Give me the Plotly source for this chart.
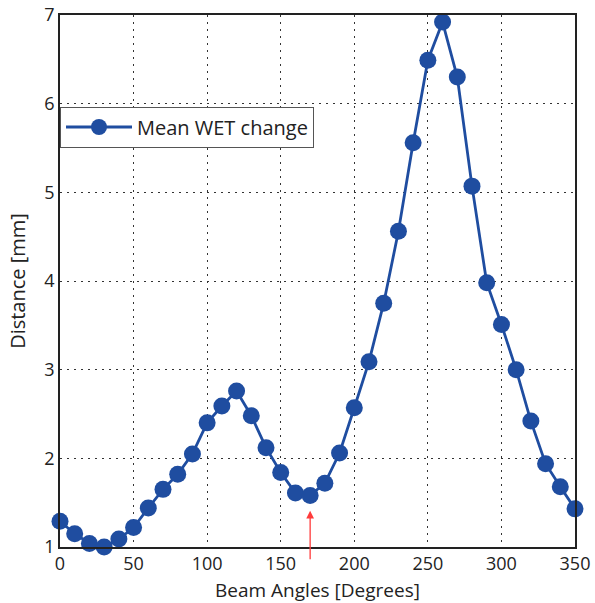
import plotly.graph_objects as go

angles = list(range(0, 360, 10))
wet_change = [1.29, 1.15, 1.04, 1.00, 1.09, 1.22, 1.44, 1.65, 1.82, 2.05,
              2.40, 2.59, 2.76, 2.48, 2.12, 1.84, 1.61, 1.58, 1.72, 2.06,
              2.57, 3.09, 3.75, 4.56, 5.56, 6.49, 6.92, 6.30, 5.07, 3.98,
              3.51, 3.00, 2.42, 1.94, 1.68, 1.43]
x_ticks = [0, 50, 100, 150, 200, 250, 300, 350]
y_ticks = [1, 2, 3, 4, 5, 6, 7]
arrow_angle = 170

color = "#1F4DA0"
font_family = "Open Sans, Noto Sans, sans-serif"

fig = go.Figure()
fig.add_trace(go.Scatter(
    x=angles, y=wet_change, mode="lines+markers",
    name="Mean WET change",
    line=dict(color=color, width=2.8),
    marker=dict(color=color, size=17),
    cliponaxis=False,
))

fig.add_annotation(
    x=arrow_angle, y=1.41, xref="x", yref="y",
    ax=0, ay=50, axref="pixel", ayref="pixel",
    showarrow=True, arrowhead=2, arrowsize=1.2, arrowwidth=1.3,
    arrowcolor="#FF3B3B", text="",
)

axis_common = dict(
    showgrid=True, gridcolor="#333333", griddash="2px,5px", gridwidth=1.2,
    showline=True, linecolor="#222222", linewidth=1.5, mirror=True,
    ticks="", zeroline=False, automargin=False,
    tickfont=dict(family=font_family, size=18, color="#222222"),
)

fig.update_layout(
    width=595, height=603,
    margin=dict(l=60, r=20, t=15, b=56),
    plot_bgcolor="white", paper_bgcolor="white",
    font=dict(family=font_family, color="#222222"),
    xaxis=dict(range=[0, 350], tickvals=x_ticks, **axis_common,
               title=dict(text="Beam Angles [Degrees]", font=dict(size=19), standoff=10)),
    yaxis=dict(range=[1, 7], tickvals=y_ticks, **axis_common,
               title=dict(text="Distance [mm]", font=dict(size=20), standoff=13)),
    legend=dict(
        x=0, y=0.828, xanchor="left", yanchor="top",
        bgcolor="white", bordercolor="#555555", borderwidth=1,
        font=dict(family=font_family, size=20, color="#222222"),
        itemwidth=66, tracegroupgap=0,
    ),
    showlegend=True,
)

fig.write_html("out.html", config={"displayModeBar": False},
               post_script="document.body.style.margin='0';")
